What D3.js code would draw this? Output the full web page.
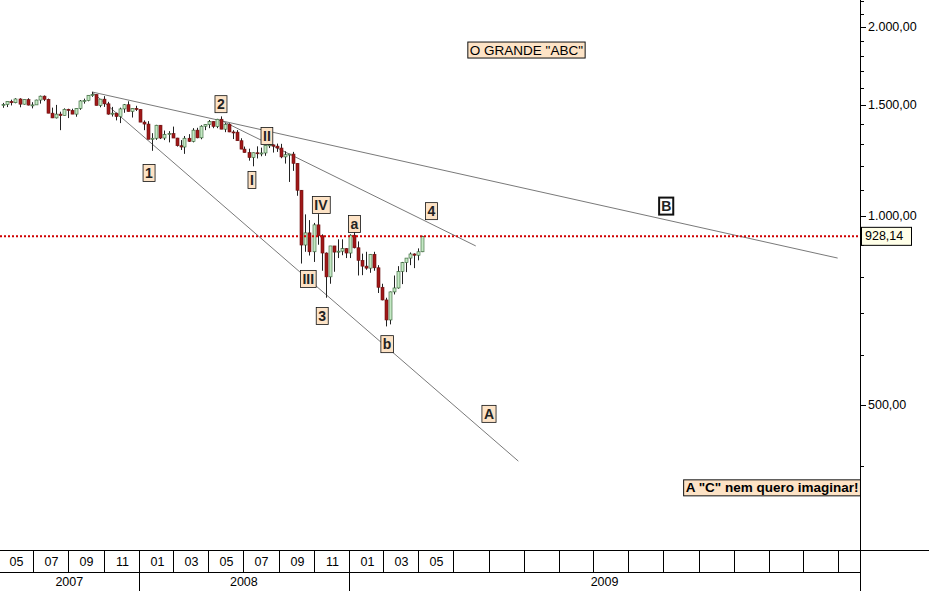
<!DOCTYPE html>
<html>
<head>
<meta charset="utf-8">
<script src="https://cdn.jsdelivr.net/npm/d3@7"></script>
<style>
  body { margin: 0; background: #fff; }
  svg { display: block; font-family: Arial, "Liberation Sans", sans-serif; }
</style>
</head>
<body>
<svg id="chart" width="929" height="591"></svg>
<script>
// Weekly candles (week ending date, open, high, low, close)
const weeks = ['2007-05-11','2007-05-18','2007-05-25','2007-06-01','2007-06-08','2007-06-15','2007-06-22','2007-06-29','2007-07-06','2007-07-13','2007-07-20','2007-07-27','2007-08-03','2007-08-10','2007-08-17','2007-08-24','2007-08-31','2007-09-07','2007-09-14','2007-09-21','2007-09-28','2007-10-05','2007-10-12','2007-10-19','2007-10-26','2007-11-02','2007-11-09','2007-11-16','2007-11-23','2007-11-30','2007-12-07','2007-12-14','2007-12-21','2007-12-28',
  '2008-01-04','2008-01-11','2008-01-18','2008-01-25','2008-02-01','2008-02-08','2008-02-15','2008-02-22','2008-02-29','2008-03-07','2008-03-14','2008-03-20','2008-03-28','2008-04-04','2008-04-11','2008-04-18','2008-04-25','2008-05-02','2008-05-09','2008-05-16','2008-05-23','2008-05-30','2008-06-06','2008-06-13','2008-06-20','2008-06-27','2008-07-03','2008-07-11','2008-07-18','2008-07-25','2008-08-01','2008-08-08','2008-08-15','2008-08-22','2008-08-29','2008-09-05','2008-09-12','2008-09-19','2008-09-26','2008-10-03','2008-10-10','2008-10-17','2008-10-24','2008-10-31','2008-11-07','2008-11-14','2008-11-21','2008-11-28','2008-12-05','2008-12-12','2008-12-19','2008-12-26',
  '2009-01-02','2009-01-09','2009-01-16','2009-01-23','2009-01-30','2009-02-06','2009-02-13','2009-02-20','2009-02-27','2009-03-06','2009-03-13','2009-03-20','2009-03-27','2009-04-03','2009-04-09','2009-04-17','2009-04-24','2009-05-01','2009-05-08'];
const opens = [1505,1505,1522,1515,1536,1507,1532,1502,1503,1530,1552,1534,1458,1433,1453,1445,1479,1473,1453,1484,1525,1527,1557,1561,1500,1535,1509,1453,1458,1440,1481,1504,1467,1484,
  1478,1411,1401,1325,1330,1395,1331,1349,1353,1331,1294,1288,1330,1315,1370,1332,1390,1398,1414,1389,1426,1375,1400,1361,1360,1318,1278,1262,1239,1261,1257,1260,1296,1298,1292,1283,1242,1252,1255,1213,1099,899,940,877,968,930,873,800,896,876,879,887,
  873,932,890,850,832,826,869,827,770,735,683,757,768,816,843,857,870,866,877];
const highs = [1514,1522,1532,1540,1540,1533,1540,1518,1532,1555,1556,1538,1488,1503,1466,1484,1482,1482,1485,1530,1538,1558,1576,1563,1536,1552,1520,1492,1461,1488,1508,1523,1485,1498,
  1480,1420,1416,1355,1397,1396,1368,1365,1388,1332,1321,1341,1350,1380,1382,1395,1399,1422,1416,1428,1441,1406,1405,1370,1370,1330,1290,1280,1262,1291,1285,1297,1314,1300,1304,1303,1268,1256,1265,1214,1100,1006,985,975,1007,935,875,896,896,918,918,889,
  935,943,911,871,877,870,877,835,780,741,758,804,832,845,856,875,872,888,930];
const lows = [1487,1491,1500,1512,1490,1505,1500,1484,1503,1510,1524,1458,1432,1430,1370,1445,1432,1453,1439,1476,1510,1523,1548,1500,1490,1492,1450,1440,1420,1406,1460,1467,1435,1470,
  1411,1370,1325,1270,1322,1326,1321,1310,1331,1290,1274,1256,1312,1310,1330,1325,1370,1380,1380,1380,1375,1360,1360,1326,1318,1278,1262,1225,1200,1235,1245,1247,1283,1262,1265,1236,1212,1133,1180,1077,840,877,865,845,900,818,741,780,815,857,866,857,
  857,888,804,805,821,812,818,754,734,667,672,750,766,779,814,835,826,850,876];
const closes = [1505,1522,1515,1536,1507,1532,1502,1503,1530,1552,1534,1458,1433,1453,1445,1479,1473,1453,1484,1525,1527,1557,1561,1500,1535,1509,1453,1458,1440,1481,1504,1467,1484,1478,
  1411,1401,1325,1330,1395,1331,1349,1353,1331,1294,1288,1330,1315,1370,1332,1390,1398,1414,1389,1426,1375,1400,1361,1360,1318,1278,1262,1239,1261,1257,1260,1296,1298,1292,1283,1242,1252,1255,1213,1099,899,940,877,968,930,873,800,896,876,879,887,873,
  932,890,850,832,826,869,827,770,735,683,757,768,816,843,857,870,866,877,928.14];

const lastValue = 928.14;

// Trend lines: [date1, value1, date2, value2]
const trendLines = [
  ['2007-10-12', 1576, '2011-04-30', 857],
  ['2007-10-12', 1576, '2009-10-22', 407],
  ['2008-05-22', 1422, '2009-08-09', 896]
];

// Wave labels
const waveText = ['1','2','I','II','III','IV','3','a','4','b','A','B'];
const waveDate = ['2008-01-19','2008-05-23','2008-07-16','2008-08-11','2008-10-22','2008-11-13','2008-11-15','2009-01-10','2009-05-24','2009-03-08','2009-09-01','2010-07-06'];
const waveValue = [1171,1507,1141,1341,794,1041,693,971,1018,625,484,1037];

const notes = [
  { text: 'O GRANDE "ABC"', date: '2009-11-05', value: 1838, bold: false },
  { text: 'A "C" nem quero imaginar!', date: '2011-01-06', value: 369, bold: true }
];

const yTickValues = [500, 1000, 1500, 2000];
const monthLabels = ['05','07','09','11','01','03','05','07','09','11','01','03','05'];
const yearLabels = ['2007', '2008', '2009'];

const parse = d3.timeParse('%Y-%m-%d');
const svg = d3.select('#chart');
const plotRight = 860, plotBottom = 550;

const x = d3.scaleTime()
  .domain([parse('2007-10-12'), parse('2009-03-06')])
  .range([92, 386]);
const y = d3.scaleLog()
  .domain([500, 2000])
  .range([405, 27]);

const fmt = v => d3.format(',.2f')(v).replace(/,/g, '#').replace('.', ',').replace(/#/g, '.');

const plot = svg.append('g');
svg.append('clipPath').attr('id', 'clip')
  .append('rect').attr('x', 0).attr('y', 0).attr('width', plotRight).attr('height', plotBottom);
plot.attr('clip-path', 'url(#clip)');

// Trend lines
trendLines.forEach(t => {
  plot.append('line')
    .attr('x1', x(parse(t[0]))).attr('y1', y(t[1]))
    .attr('x2', x(parse(t[2]))).attr('y2', y(t[3]))
    .attr('stroke', '#6a6a6a').attr('stroke-width', 0.9);
});

// Candles
weeks.forEach((w, i) => {
  const cx = Math.round(x(parse(w))) + 0.5;
  const up = closes[i] >= opens[i];
  plot.append('line')
    .attr('x1', cx).attr('x2', cx)
    .attr('y1', y(highs[i])).attr('y2', y(lows[i]))
    .attr('stroke', '#222').attr('stroke-width', 1);
  const top = y(Math.max(opens[i], closes[i]));
  const bot = y(Math.min(opens[i], closes[i]));
  plot.append('rect')
    .attr('x', cx - 1.5).attr('width', 3)
    .attr('y', top).attr('height', Math.max(1, bot - top))
    .attr('fill', up ? '#c4e8c4' : '#a01818')
    .attr('stroke', up ? '#2f5f2f' : '#6a0f0f').attr('stroke-width', 0.6);
});

// Last value line
plot.append('line')
  .attr('x1', 0).attr('x2', plotRight)
  .attr('y1', y(lastValue)).attr('y2', y(lastValue))
  .attr('stroke', '#d00000').attr('stroke-width', 2)
  .attr('stroke-dasharray', '2,2');

// Wave labels
waveText.forEach((t, i) => {
  const g = plot.append('g');
  const tx = x(parse(waveDate[i])), ty = y(waveValue[i]);
  const txt = g.append('text')
    .attr('x', tx).attr('y', ty)
    .attr('text-anchor', 'middle').attr('dominant-baseline', 'central')
    .attr('font-size', 14).attr('font-weight', 'bold').attr('fill', '#222')
    .text(t);
  const bb = txt.node().getBBox();
  const isB = t === 'B';
  g.insert('rect', 'text')
    .attr('x', bb.x - 2).attr('y', ty - 8.5)
    .attr('width', bb.width + 4).attr('height', 17)
    .attr('fill', isB ? '#fff' : '#fde3c6')
    .attr('stroke', '#111').attr('stroke-width', isB ? 2 : 0.8);
});

// Notes
notes.forEach(n => {
  const g = plot.append('g');
  const tx = x(parse(n.date)), ty = y(n.value);
  const txt = g.append('text')
    .attr('x', tx).attr('y', ty)
    .attr('text-anchor', 'middle').attr('dominant-baseline', 'central')
    .attr('font-size', 13.5).attr('fill', '#000')
    .attr('font-weight', n.bold ? 'bold' : 'normal')
    .text(n.text);
  const bb = txt.node().getBBox();
  g.insert('rect', 'text')
    .attr('x', bb.x - 2).attr('y', ty - 8)
    .attr('width', bb.width + 4).attr('height', 16)
    .attr('fill', '#fde3c6').attr('stroke', '#111').attr('stroke-width', 1);
});

// Right axis
svg.append('line').attr('x1', plotRight + 0.5).attr('x2', plotRight + 0.5)
  .attr('y1', 0).attr('y2', 591).attr('stroke', '#000');
d3.range(400, 2300, 100).forEach(v => {
  if (y(v) < 0 || y(v) > plotBottom) return;
  const major = yTickValues.includes(v);
  svg.append('line')
    .attr('x1', plotRight).attr('x2', plotRight + (major ? 6 : 4))
    .attr('y1', Math.round(y(v)) + 0.5).attr('y2', Math.round(y(v)) + 0.5)
    .attr('stroke', '#000');
});
yTickValues.forEach(v => {
  svg.append('text')
    .attr('x', plotRight + 8).attr('y', y(v))
    .attr('dominant-baseline', 'central')
    .attr('font-size', 12.5).attr('fill', '#000')
    .text(fmt(v));
});
const lvY = y(lastValue);
svg.append('rect').attr('x', plotRight + 1.5).attr('y', lvY - 9)
  .attr('width', 50).attr('height', 18)
  .attr('fill', '#ffffe8').attr('stroke', '#000');
svg.append('text').attr('x', plotRight + 5).attr('y', lvY)
  .attr('dominant-baseline', 'central').attr('font-size', 12.5)
  .text(fmt(lastValue));

// Bottom time axis
const axisG = svg.append('g');
axisG.append('line').attr('x1', 0).attr('x2', 929).attr('y1', plotBottom + 0.5).attr('y2', plotBottom + 0.5).attr('stroke', '#000');
axisG.append('line').attr('x1', 0).attr('x2', plotRight).attr('y1', 572.5).attr('y2', 572.5).attr('stroke', '#000');
const monthTicks = d3.timeMonth.every(2).range(parse('2007-05-01'), parse('2011-06-01'))
  .filter(d => d.getMonth() % 2 === 0);
monthTicks.forEach((d, i) => {
  const mx = Math.round(x(d)) + 0.5;
  if (mx > plotRight) return;
  axisG.append('line').attr('x1', mx).attr('x2', mx).attr('y1', plotBottom).attr('y2', 572).attr('stroke', '#000');
  if (i < monthLabels.length) {
    axisG.append('text').attr('x', mx + 18).attr('y', 562)
      .attr('text-anchor', 'middle').attr('dominant-baseline', 'central')
      .attr('font-size', 12.5).text(monthLabels[i]);
  }
});
const yearStarts = [parse('2007-05-01'), parse('2008-01-01'), parse('2009-01-01')];
yearLabels.forEach((t, i) => {
  const x0 = Math.max(0, x(yearStarts[i]));
  const x1 = i < yearLabels.length - 1 ? x(yearStarts[i + 1]) : plotRight;
  if (i > 0) axisG.append('line').attr('x1', Math.round(x0) + 0.5).attr('x2', Math.round(x0) + 0.5)
    .attr('y1', 572).attr('y2', 591).attr('stroke', '#000');
  axisG.append('text').attr('x', (x0 + x1) / 2).attr('y', 582)
    .attr('text-anchor', 'middle').attr('dominant-baseline', 'central')
    .attr('font-size', 12.5).text(t);
});
</script>
</body>
</html>
